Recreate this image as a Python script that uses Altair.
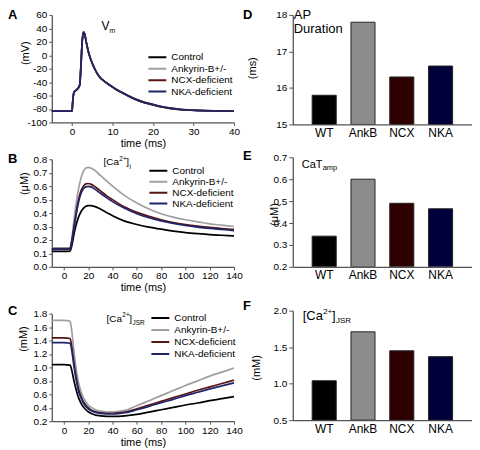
import altair as alt
import pandas as pd

FONT = "Liberation Sans"
SERIES = ["Control", "Ankyrin-B+/-", "NCX-deficient", "NKA-deficient"]
LINE_COLORS = ["#000000", "#a0a0a0", "#5a1414", "#20246a"]
CATS = ["WT", "AnkB", "NCX", "NKA"]
BAR_COLORS = ["#000000", "#8c8c8c", "#2e0000", "#00003a"]

# ---- Panel A: membrane potential (mV) ----
t_vm = [-5, 0, 0.15, 0.5, 1.0, 1.5, 1.9, 2.2, 2.5, 2.8, 3.1, 3.5, 4.0, 4.6, 5.5, 6.6,
        8, 9.4, 11, 12.7, 14.3, 15.9, 18, 20, 22, 24, 26, 28, 31, 35, 40]
vm_control = [-83, -83, -70, -55, -52, -49, -44, -15, 20, 34.5, 32, 20, 6, -6, -19, -31,
              -39, -45, -51.5, -57, -62, -66.5, -71, -74, -77, -79, -80.5, -81.5, -82.3, -82.8, -83]
vm_ankb = [-83, -83, -70, -55, -52, -49, -44, -15, 20, 34.5, 32, 20, 6, -6, -19, -31,
           -38.8, -44.6, -51, -56.3, -61.2, -65.6, -70, -73, -76, -78.2, -79.8, -81, -82, -82.7, -83]
vm_ncx = [-83, -83, -70, -55, -52, -49, -44, -15, 20, 34.5, 32, 20, 6, -6, -19, -31,
          -38.9, -44.8, -51.2, -56.6, -61.6, -66, -70.5, -73.5, -76.5, -78.6, -80.1, -81.2, -82.1, -82.7, -83]
vm_nka = [-83, -83, -70, -55, -52, -49, -44, -15, 20, 34.5, 32, 20, 6, -6, -19, -31,
          -38.9, -44.7, -51.1, -56.5, -61.4, -65.8, -70.3, -73.3, -76.3, -78.4, -80, -81.1, -82, -82.7, -83]

# ---- Panel B: [Ca2+]i (uM) ----
t_cai = [-10, 0, 5, 6, 7, 8, 10, 12, 14, 16, 18, 20, 22, 25, 30, 35, 40, 50, 60, 70, 80, 90, 100, 110, 120, 130, 140]
cai_control = [0.115, 0.115, 0.117, 0.14, 0.18, 0.23, 0.31, 0.37, 0.41, 0.435, 0.45, 0.455, 0.455, 0.45, 0.43,
               0.405, 0.38, 0.34, 0.315, 0.295, 0.28, 0.265, 0.255, 0.247, 0.24, 0.235, 0.23]
cai_ankb = [0.14, 0.14, 0.142, 0.18, 0.25, 0.33, 0.47, 0.58, 0.66, 0.71, 0.735, 0.74, 0.735, 0.72, 0.68,
            0.64, 0.6, 0.53, 0.475, 0.43, 0.395, 0.37, 0.35, 0.335, 0.32, 0.31, 0.30]
cai_ncx = [0.135, 0.135, 0.137, 0.17, 0.22, 0.28, 0.40, 0.50, 0.565, 0.60, 0.617, 0.62, 0.615, 0.6, 0.565,
           0.53, 0.5, 0.445, 0.405, 0.375, 0.35, 0.33, 0.315, 0.303, 0.293, 0.285, 0.278]
cai_nka = [0.13, 0.13, 0.132, 0.165, 0.215, 0.27, 0.385, 0.48, 0.545, 0.58, 0.595, 0.598, 0.595, 0.58, 0.547,
           0.515, 0.485, 0.435, 0.395, 0.365, 0.342, 0.323, 0.308, 0.296, 0.286, 0.278, 0.27]

# ---- Panel C: [Ca2+]JSR (mM) ----
t_jsr = [-10, 0, 5, 6, 7, 8, 9, 10, 12, 14, 16, 18, 20, 23, 26, 30, 35, 40, 45, 50, 60, 70, 80, 90, 100, 110, 120, 130, 140]
jsr_control = [1.04, 1.04, 1.035, 0.99, 0.91, 0.82, 0.74, 0.67, 0.55, 0.47, 0.41, 0.37, 0.34, 0.31, 0.29,
               0.28, 0.272, 0.27, 0.272, 0.278, 0.30, 0.335, 0.37, 0.405, 0.44, 0.47, 0.505, 0.535, 0.565]
jsr_ankb = [1.70, 1.70, 1.69, 1.60, 1.45, 1.28, 1.12, 0.98, 0.78, 0.64, 0.55, 0.49, 0.44, 0.40, 0.37,
            0.35, 0.34, 0.34, 0.345, 0.36, 0.43, 0.505, 0.58, 0.655, 0.73, 0.80, 0.87, 0.93, 0.99]
jsr_ncx = [1.44, 1.44, 1.43, 1.36, 1.24, 1.10, 0.97, 0.86, 0.68, 0.57, 0.49, 0.44, 0.40, 0.36, 0.34,
           0.325, 0.318, 0.318, 0.322, 0.335, 0.385, 0.44, 0.495, 0.55, 0.605, 0.66, 0.71, 0.76, 0.81]
jsr_nka = [1.37, 1.37, 1.36, 1.30, 1.18, 1.05, 0.93, 0.82, 0.65, 0.55, 0.47, 0.42, 0.385, 0.35, 0.33,
           0.315, 0.308, 0.308, 0.312, 0.325, 0.37, 0.42, 0.475, 0.525, 0.58, 0.63, 0.68, 0.725, 0.77]

# ---- Bars ----
apd_vals = [15.8, 17.8, 16.3, 16.6]
catamp_vals = [0.34, 0.60, 0.49, 0.465]
jsrbar_vals = [1.04, 1.71, 1.45, 1.37]

LW, LH = 183, 108
RW, RH = 180, 110


def long_df(t, cols):
    rows = []
    for name, vals in zip(SERIES, cols):
        for ti, v in zip(t, vals):
            rows.append({"t": ti, "v": v, "s": name})
    return pd.DataFrame(rows)


def txt(s, x, y, size, weight="normal"):
    return alt.Chart(pd.DataFrame({"s": [s]})).mark_text(
        align="left", baseline="middle", fontSize=size, fontWeight=weight,
        font=FONT, color="black"
    ).encode(x=alt.value(x), y=alt.value(y), text="s:N")


def line_panel(df, xdom, xticks, ydom, yticks, yfmt, ytitle, tx, ty, lx, ly, rowpad, notes):
    yaxis_kw = dict(values=yticks, title=ytitle, titleX=tx, titleY=ty, titleAngle=-90,
                    titleAlign="center", titleBaseline="middle", tickSize=3, labelPadding=2,
                    labelFlush=False, labelOverlap=False)
    if yfmt is None:
        yaxis_kw["labelExpr"] = "'' + datum.value"
    else:
        yaxis_kw["format"] = yfmt
    lines = alt.Chart(df).mark_line(strokeWidth=1.7, interpolate="monotone").encode(
        x=alt.X("t:Q", scale=alt.Scale(domain=xdom, nice=False, zero=False),
                axis=alt.Axis(values=xticks, title="time (ms)", tickSize=3, labelPadding=1,
                              titlePadding=1, labelFlush=False, labelOverlap=False)),
        y=alt.Y("v:Q", scale=alt.Scale(domain=ydom, nice=False, zero=False),
                axis=alt.Axis(**yaxis_kw)),
        color=alt.Color("s:N", scale=alt.Scale(domain=SERIES, range=LINE_COLORS),
                        legend=alt.Legend(title=None, orient="none", legendX=lx, legendY=ly,
                                          symbolType="stroke", symbolSize=324,
                                          symbolStrokeWidth=2, clipHeight=11,
                                          rowPadding=rowpad, labelFontSize=10, labelFont=FONT,
                                          labelColor="black", padding=0, labelOffset=4)),
    )
    return alt.layer(lines, *notes).properties(width=LW, height=LH)


def bar_panel(vals, ydom, yticks, yfmt, ytitle, tx, ty, notes):
    df = pd.DataFrame({"c": CATS, "v": vals})
    bars = alt.Chart(df).mark_bar(stroke="#222222", strokeWidth=1, clip=True).encode(
        x=alt.X("c:N", sort=CATS, scale=alt.Scale(paddingInner=0.38, paddingOuter=0.5),
                axis=alt.Axis(title=None, labelAngle=0, ticks=False, labelFontSize=12,
                              labelPadding=3)),
        y=alt.Y("v:Q", scale=alt.Scale(domain=ydom, nice=False, zero=False),
                axis=alt.Axis(values=yticks, format=yfmt, title=ytitle, titleX=tx, titleY=ty,
                              titleAngle=-90, titleAlign="center", titleBaseline="middle",
                              tickSize=4, labelPadding=2, labelFlush=False, labelOverlap=False)),
        y2=alt.datum(ydom[0]),
        color=alt.Color("c:N", scale=alt.Scale(domain=CATS, range=BAR_COLORS), legend=None),
    )
    return alt.layer(bars, *notes).properties(width=RW, height=RH)


panel_a = line_panel(
    long_df(t_vm, [vm_control, vm_ankb, vm_ncx, vm_nka]),
    [-5, 40], [0, 10, 20, 30, 40], [-100, 60], list(range(-100, 61, 20)), None,
    "(mV)", -26, 38, 96, 37, 0.5,
    [txt("A", -44, 0, 13, "bold"), txt("V", 50, 11, 12), txt("m", 58, 16, 7)],
)
panel_b = line_panel(
    long_df(t_cai, [cai_control, cai_ankb, cai_ncx, cai_nka]),
    [-10, 140], list(range(0, 141, 20)), [0, 0.8], [0, 0.1, 0.2, 0.3, 0.4, 0.5, 0.6, 0.7, 0.8], ".1f",
    "(μM)", -27, 24, 97, 6, 0,
    [txt("B", -44, 0, 13, "bold"), txt("[Ca", 52, 3, 10), txt("2+", 67.8, 0, 6.5),
     txt("]", 74.8, 3, 10), txt("i", 78, 8, 6.5)],
)
panel_c = line_panel(
    long_df(t_jsr, [jsr_control, jsr_ankb, jsr_ncx, jsr_nka]),
    [-10, 140], list(range(0, 141, 20)), [0.2, 1.8], [0.2, 0.4, 0.6, 0.8, 1.0, 1.2, 1.4, 1.6, 1.8], ".1f",
    "(mM)", -28, 25, 99, -1, 1,
    [txt("C", -44, -3, 13, "bold"), txt("[Ca", 55, 5, 10), txt("2+", 70.8, 1.5, 6.5),
     txt("]", 77.8, 5, 10), txt("JSR", 81, 9, 6.5)],
)

panel_d = bar_panel(apd_vals, [15, 18], [15, 16, 17, 18], "d", "(ms)", -40, 53,
                    [txt("D", -50, 0, 13, "bold"), txt("AP", 1, 0, 13), txt("Duration", 1, 14, 13)])
panel_e = bar_panel(catamp_vals, [0.2, 0.7], [0.2, 0.3, 0.4, 0.5, 0.6, 0.7], ".1f", "(μM)", -18, 57,
                    [txt("E", -50, -1, 13, "bold"), txt("CaT", 9, 8, 11), txt("amp", 30, 11, 7.5)])
panel_f = bar_panel(jsrbar_vals, [0.5, 2.0], [0.5, 1.0, 1.5, 2.0], ".1f", "(mM)", -36, 57,
                    [txt("F", -50, -5, 13, "bold"), txt("[Ca", 10, 5, 13), txt("2+", 30.5, 1, 8),
                     txt("]", 39.5, 5, 13), txt("JSR", 43.5, 10, 8)])

left_top = alt.vconcat(panel_a, panel_b, spacing=5).resolve_scale(color="independent")
left = alt.vconcat(left_top, panel_c, spacing=12).resolve_scale(color="independent")
right_top = alt.vconcat(panel_d, panel_e, spacing=12).resolve_scale(color="independent")
right = alt.vconcat(right_top, panel_f, spacing=19).resolve_scale(color="independent")

chart = alt.concat(left, right, columns=2, spacing=0).resolve_scale(color="independent").properties(
    padding=0, align="none"
).configure_view(stroke=None).configure_axis(
    domainColor="#555555", tickColor="#555555", domainWidth=1.3, labelColor="black",
    labelFont=FONT, titleFont=FONT, labelFontSize=10, titleFontSize=11,
    titleFontWeight="normal", titleColor="black", grid=False,
)

chart.save("out.html", embed_options={"renderer": "svg", "actions": False})
